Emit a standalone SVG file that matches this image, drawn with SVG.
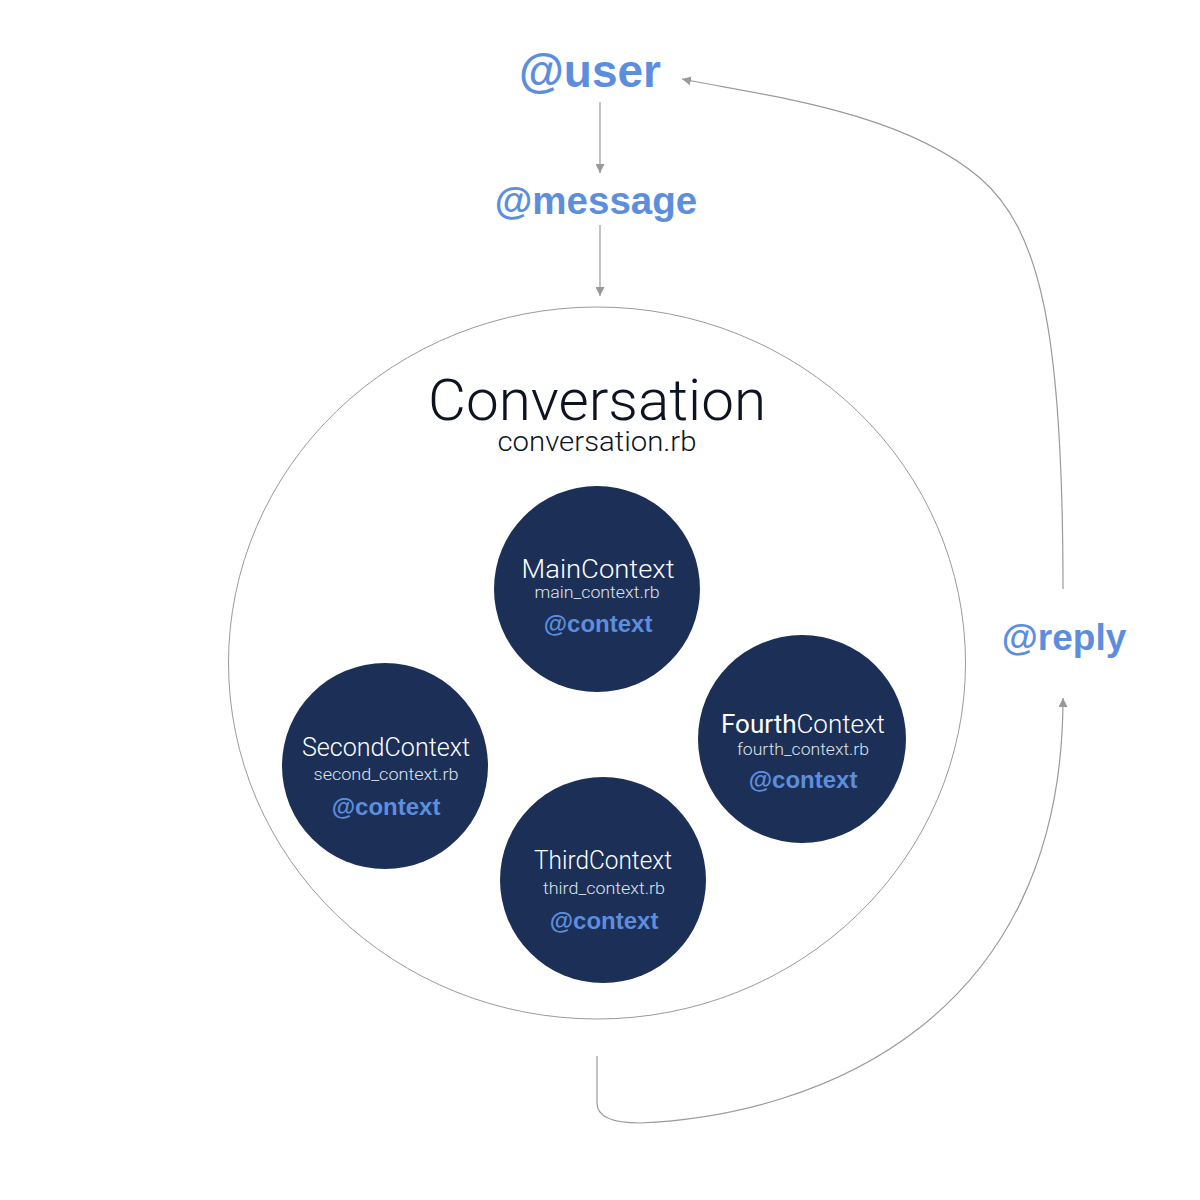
<svg xmlns="http://www.w3.org/2000/svg" width="1200" height="1200" viewBox="0 0 1200 1200">
<defs>
<marker id="arr" viewBox="0 0 10 10" refX="10" refY="5" markerWidth="9" markerHeight="9" markerUnits="userSpaceOnUse" orient="auto">
<path d="M0,0 L10,5 L0,10 z" fill="#999999"/>
</marker>
<style>
.lbl{font-family:"Liberation Sans",Arial,sans-serif;font-weight:bold;fill:#5d8ede;text-anchor:middle}
.conn{fill:none;stroke:#9a9a9a;stroke-width:1.2}
.ctx{fill:#1b2f57}
.name{font-family:Roboto,"Liberation Sans",sans-serif;font-weight:300;fill:#ffffff;text-anchor:middle;font-size:26px}
.file{font-family:Roboto,"Liberation Sans",sans-serif;font-weight:300;fill:#dfe3ea;text-anchor:middle;font-size:16.5px}
.cv{font-family:"Liberation Sans",Arial,sans-serif;font-weight:bold;fill:#5d8ede;text-anchor:middle;font-size:24px}
.dark{font-family:Roboto,"Liberation Sans",sans-serif;font-weight:300;fill:#0d1320;text-anchor:middle}
</style>
</defs>
<rect width="1200" height="1200" fill="#ffffff"/>
<g id="connectors">
<line class="conn" x1="600" y1="102" x2="600" y2="173" marker-end="url(#arr)"/>
<line class="conn" x1="600" y1="225" x2="600" y2="296" marker-end="url(#arr)"/>
<path class="conn" d="M597,1056 L597,1103 Q597,1123 640,1123 C820,1115 1063,1020 1063,698" marker-end="url(#arr)"/>
<path class="conn" d="M1063,589 C1063,330 1040,230 980,178 C900,110 760,95 682,79" marker-end="url(#arr)"/>
</g>
<g id="user"><text class="lbl" x="590" y="87" font-size="46">@user</text></g>
<g id="message"><text class="lbl" x="596" y="214" font-size="38.5">@message</text></g>
<g id="reply"><text class="lbl" x="1064" y="650" font-size="37">@reply</text></g>
<g id="conversation">
<ellipse cx="597" cy="663" rx="368.5" ry="356" fill="none" stroke="#9a9a9a" stroke-width="1"/>
<text class="dark" x="597" y="420" font-size="57" textLength="338" lengthAdjust="spacingAndGlyphs">Conversation</text>
<text class="dark" x="597" y="451" font-size="27" textLength="199" lengthAdjust="spacingAndGlyphs">conversation.rb</text>
</g>
<g id="main-context">
<circle class="ctx" cx="597" cy="589" r="103"/>
<text class="name" x="598" y="578" textLength="153" lengthAdjust="spacingAndGlyphs">MainContext</text>
<text class="file" x="597" y="598" textLength="125" lengthAdjust="spacingAndGlyphs">main_context.rb</text>
<text class="cv" x="598" y="632">@context</text>
</g>
<g id="second-context">
<circle class="ctx" cx="385" cy="766" r="103"/>
<text class="name" x="386" y="756" textLength="168" lengthAdjust="spacingAndGlyphs">SecondContext</text>
<text class="file" x="386" y="780" textLength="145" lengthAdjust="spacingAndGlyphs">second_context.rb</text>
<text class="cv" x="386" y="815">@context</text>
</g>
<g id="third-context">
<circle class="ctx" cx="603" cy="880" r="103"/>
<text class="name" x="603" y="869" textLength="138" lengthAdjust="spacingAndGlyphs">ThirdContext</text>
<text class="file" x="604" y="894" textLength="122" lengthAdjust="spacingAndGlyphs">third_context.rb</text>
<text class="cv" x="604" y="929">@context</text>
</g>
<g id="fourth-context">
<circle class="ctx" cx="802" cy="739" r="104"/>
<text class="name" x="803" y="733" textLength="164" lengthAdjust="spacingAndGlyphs"><tspan font-weight="400">Fourth</tspan>Context</text>
<text class="file" x="803" y="755" textLength="132" lengthAdjust="spacingAndGlyphs">fourth_context.rb</text>
<text class="cv" x="803" y="788">@context</text>
</g>
</svg>
